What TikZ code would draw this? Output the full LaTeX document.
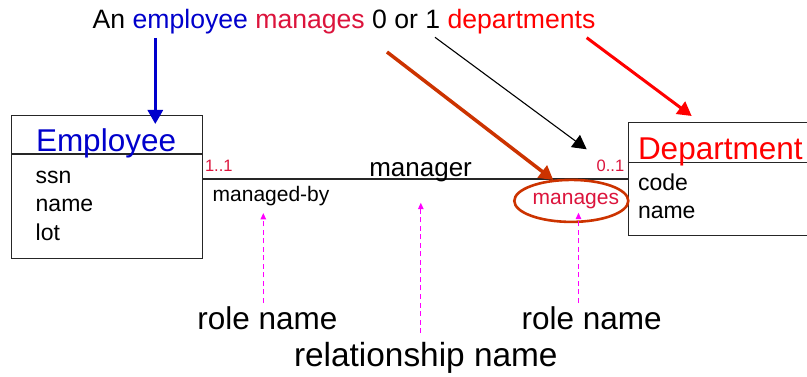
\documentclass[tikz,border=0pt]{standalone}
\usepackage{fontspec}
\setmainfont{Liberation Sans}
\usetikzlibrary{arrows.meta}
\definecolor{empblue}{RGB}{0,0,204}
\definecolor{relcrimson}{RGB}{220,20,60}
\definecolor{deptred}{RGB}{255,0,0}
\definecolor{rust}{RGB}{204,51,0}
\definecolor{hint}{RGB}{255,0,255}
\newcommand{\fs}[1]{\fontsize{#1}{#1}\selectfont}
\begin{document}
\begin{tikzpicture}[x=1pt,y=-1pt,
  txt/.style={anchor=base west, inner sep=0pt, outer sep=0pt},
  entity/.style={draw=black!85, line width=1.1pt, anchor=north west, inner sep=0pt},
  pointer/.style={-{Triangle[width=15pt,length=14pt]}},
  hintarrow/.style={draw=hint, line width=1.3pt, dash pattern=on 5pt off 3.5pt,
    -{Triangle[width=5.5pt,length=6.5pt]}}]
\useasboundingbox (0,0) rectangle (807,377);
\fill[white] (0,0) rectangle (807,377);

% heading sentence
\node[txt] (sentence) at (92.7,29) {\fs{26.6}An \textcolor{empblue}{employee}
  \textcolor{relcrimson}{manages} 0 or 1 \textcolor{deptred}{departments}};

% entity boxes
\node[entity, minimum width=191pt, minimum height=143pt] (emp) at (11,115) {};
\node[entity, minimum width=200pt, minimum height=112.4pt] (dept) at (627.7,122.3) {};
\draw[black!85, line width=1.1pt] (emp.west |- 0,154) -- (emp.east |- 0,154);
\draw[black!85, line width=1.1pt] (dept.west |- 0,162.3) -- (dept.east |- 0,162.3);

\node[txt, empblue] (empName) at (36,152) {\fs{31.5}Employee};
\node[txt] (eA1) at (35.7,183.3) {\fs{23}ssn};
\node[txt] (eA2) at (35.7,211.7) {\fs{23}name};
\node[txt] (eA3) at (35.7,240.7) {\fs{23}lot};

\node[txt, deptred] (deptName) at (638,160) {\fs{31.5}Department};
\node[txt] (dA1) at (638,190.7) {\fs{23}code};
\node[txt] (dA2) at (638,219) {\fs{23}name};

% relationship line and its labels
\draw[black!85, line width=1.1pt] (emp.east |- 0,179) -- (dept.west |- 0,179);
\node[txt, relcrimson] (cEmp) at (205,172) {\fs{16.5}1..1};
\node[txt, relcrimson] (cDept) at (596.7,171.7) {\fs{16.5}0..1};
\node[txt] (relName) at (369.3,176.7) {\fs{26}manager};
\node[txt] (roleEmp) at (212.7,201.7) {\fs{21}managed-by};
\node[txt, relcrimson] (roleDept) at (532.7,205) {\fs{21}manages};
\draw[rust, line width=2.6pt] (571.3,200.9) ellipse [x radius=57, y radius=21];

% pointers from the sentence
\coordinate (empFrom) at (155.3,38);
\coordinate (empTo) at (155.3,124);
\draw[empblue, line width=3pt, pointer] (empFrom) -- (empTo);
\coordinate (manFrom) at (387,52);
\coordinate (manTo) at (553.3,180);
\draw[rust, line width=3.5pt, pointer] (manFrom) -- (manTo);
\coordinate (numFrom) at (435,37.3);
\coordinate (numTo) at (586.7,149.3);
\draw[black, line width=1.1pt, pointer] (numFrom) -- (numTo);
\coordinate (deptFrom) at (586.7,37.7);
\coordinate (deptTo) at (691.7,116);
\draw[deptred, line width=3pt, pointer] (deptFrom) -- (deptTo);

% explanations below
\node[txt] (lRoleA) at (197.3,329) {\fs{31.5}role name};
\node[txt] (lRoleB) at (521.7,329) {\fs{31.5}role name};
\node[txt] (lRel) at (294,366.7) {\fs{33.4}relationship name};
\coordinate (hA0) at (263.3,303);
\coordinate (hA1) at (263.3,213);
\coordinate (hB0) at (420.8,333);
\coordinate (hB1) at (420.8,202.7);
\coordinate (hC0) at (578.5,303);
\coordinate (hC1) at (578.5,212.7);
\draw[hintarrow] (hA0) -- (hA1);
\draw[hintarrow] (hB0) -- (hB1);
\draw[hintarrow] (hC0) -- (hC1);
\end{tikzpicture}
\end{document}
